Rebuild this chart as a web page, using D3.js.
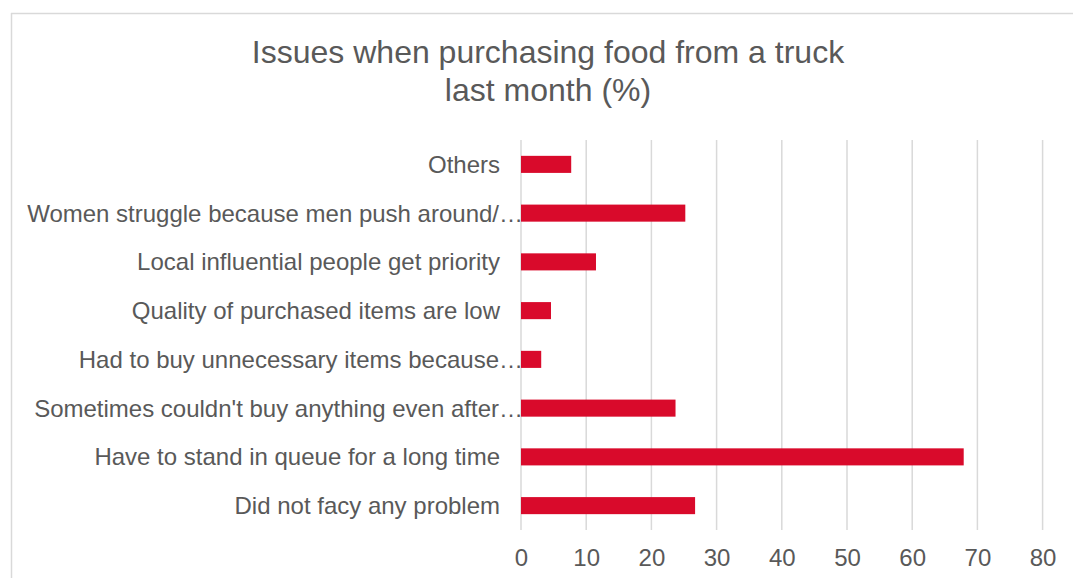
<!DOCTYPE html>
<html>
<head>
<meta charset="utf-8">
<script src="https://cdn.jsdelivr.net/npm/d3@7"></script>
<style>
  html, body { margin: 0; padding: 0; background: #fff; }
  svg { display: block; font-family: "Liberation Sans", Arial, sans-serif; }
</style>
</head>
<body>
<svg id="chart" width="1073" height="578"></svg>
<script>
// Survey responses, top of chart first
const categories = [
  "Others",
  "Women struggle because men push around/…",
  "Local influential people get priority",
  "Quality of purchased items are low",
  "Had to buy unnecessary items because…",
  "Sometimes couldn't buy anything even after…",
  "Have to stand in queue for a long time",
  "Did not facy any problem"
];
const values = [7.7, 25.2, 11.5, 4.6, 3.1, 23.7, 67.9, 26.7];
const xTicks = [0, 10, 20, 30, 40, 50, 60, 70, 80];
const titleLines = ["Issues when purchasing food from a truck", "last month (%)"];

const svg = d3.select("#chart");
const W = 1073, H = 578;
const textColor = "#595959";
const gridColor = "#d9d9d9";
const barColor = "#d90a2b";

// chart area frame (top and left edges visible)
svg.append("line").attr("x1", 11).attr("x2", W).attr("y1", 13.5).attr("y2", 13.5)
  .attr("stroke", gridColor).attr("stroke-width", 1.5);
svg.append("line").attr("x1", 11.5).attr("x2", 11.5).attr("y1", 13).attr("y2", H)
  .attr("stroke", gridColor).attr("stroke-width", 1.5);

// title
svg.append("g").selectAll("text").data(titleLines).join("text")
  .attr("x", 548).attr("y", (d, i) => 63 + i * 38)
  .attr("text-anchor", "middle")
  .attr("font-size", 32)
  .attr("fill", textColor)
  .text(d => d);

const plot = { left: 521, right: 1042.6, top: 140, bottom: 530 };

const x = d3.scaleLinear().domain([0, 80]).range([plot.left, plot.right]);
const y = d3.scaleBand().domain(categories).range([plot.top, plot.bottom]).paddingInner(0.65).paddingOuter(0.325);

// vertical gridlines
svg.append("g").selectAll("line").data(xTicks).join("line")
  .attr("x1", d => x(d)).attr("x2", d => x(d))
  .attr("y1", plot.top).attr("y2", plot.bottom)
  .attr("stroke", gridColor).attr("stroke-width", 1.5);

// bars
svg.append("g").selectAll("rect").data(values).join("rect")
  .attr("x", x(0))
  .attr("y", (d, i) => y(categories[i]))
  .attr("width", d => x(d) - x(0))
  .attr("height", y.bandwidth())
  .attr("fill", barColor);

// x axis tick labels
const xAxis = d3.axisBottom(x).tickValues(xTicks).tickSize(0).tickPadding(0).tickFormat(d3.format("d"));
const gx = svg.append("g").attr("transform", `translate(0,${plot.bottom})`).call(xAxis);
gx.select(".domain").remove();
gx.selectAll("text")
  .attr("font-size", 24)
  .attr("font-family", "Liberation Sans, Arial, sans-serif")
  .attr("fill", textColor)
  .attr("dy", null)
  .attr("y", 36);

// category labels (truncated ones run up to the axis line)
const yAxis = d3.axisLeft(y).tickSize(0).tickPadding(0);
const gy = svg.append("g").call(yAxis);
gy.select(".domain").remove();
gy.selectAll("text")
  .attr("font-size", 24)
  .attr("font-family", "Liberation Sans, Arial, sans-serif")
  .attr("fill", textColor)
  .attr("x", d => d.endsWith("…") ? 523 : 500)
  .attr("dy", "0.35em");
</script>
</body>
</html>
